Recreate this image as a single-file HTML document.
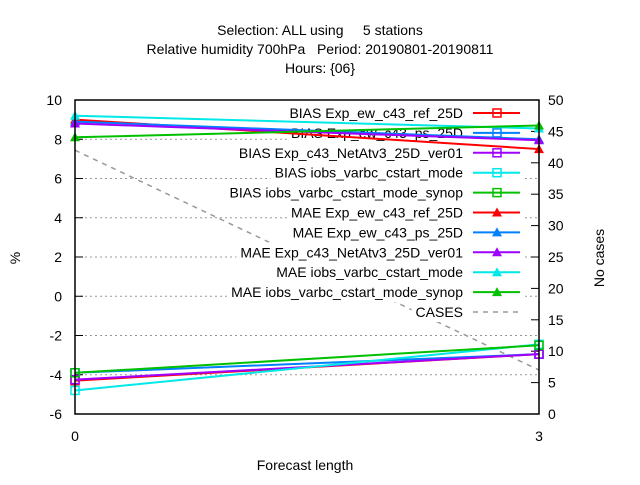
<!DOCTYPE html>
<html><head><meta charset="utf-8"><style>
body{margin:0;background:#fff;width:640px;height:480px;overflow:hidden}
svg text{font-family:"Liberation Sans",sans-serif;font-size:14px;fill:#000;white-space:pre}
</style></head><body>
<svg id="chart" width="640" height="480" xmlns="http://www.w3.org/2000/svg"></svg>
<script>
const xCats=[0,3];
const leftTicks=[-6,-4,-2,0,2,4,6,8,10];
const rightTicks=[0,5,10,15,20,25,30,35,40,45,50];
const seriesNames=["BIAS Exp_ew_c43_ref_25D","BIAS Exp_ew_c43_ps_25D","BIAS Exp_c43_NetAtv3_25D_ver01","BIAS iobs_varbc_cstart_mode","BIAS iobs_varbc_cstart_mode_synop","MAE Exp_ew_c43_ref_25D","MAE Exp_ew_c43_ps_25D","MAE Exp_c43_NetAtv3_25D_ver01","MAE iobs_varbc_cstart_mode","MAE iobs_varbc_cstart_mode_synop"];
const colors=["#ff0000","#0080ff","#a000ff","#00e8e8","#00c000","#ff0000","#0080ff","#a000ff","#00e8e8","#00c000"];
const biasRef=[-4.3,-2.95];
const biasPs=[-3.9,-2.95];
const biasNet=[-4.25,-2.95];
const biasIobs=[-4.8,-2.45];
const biasSynop=[-3.9,-2.5];
const maeRef=[9.0,7.5];
const maePs=[8.9,8.0];
const maeNet=[8.8,7.95];
const maeIobs=[9.2,8.55];
const maeSynop=[8.1,8.7];
const cases=[42,7];
const seriesVals=[biasRef,biasPs,biasNet,biasIobs,biasSynop,maeRef,maePs,maeNet,maeIobs,maeSynop];

const L=75,R=539,T=100,B=414;
const xs=v=>L+(v-0)/(3-0)*(R-L);
const ys=v=>B-(v+6)/16*(B-T);
const yr=v=>B-v/50*(B-T);
const svg=document.getElementById('chart');
const NS="http://www.w3.org/2000/svg";
function mk(tag,attrs,parent){const e=document.createElementNS(NS,tag);for(const k in attrs)e.setAttribute(k,attrs[k]);(parent||svg).appendChild(e);return e;}
function txt(s,x,y,anchor,parent){const t=mk('text',{x:x,y:y,'text-anchor':anchor||'start'},parent);t.textContent=s;return t;}

const tg=mk('g',{});


txt("Selection: ALL using     5 stations",320,35,'middle',tg);
txt("Relative humidity 700hPa   Period: 20190801-20190811",320,54,'middle',tg);
txt("Hours: {06}",320,73,'middle',tg);

const grid=mk('g',{});


leftTicks.forEach(v=>{
  const y=ys(v);
  if(v>-6&&v<10) mk('line',{x1:L,x2:R,y1:y,y2:y,stroke:'#999','stroke-dasharray':'2,3','stroke-width':1},grid);
  mk('line',{x1:L,x2:L+8,y1:y,y2:y,stroke:'#000'},grid);
  const t=txt(String(v),62,y+5,'end');
  
  
});
rightTicks.forEach(v=>{
  const y=yr(v);
  mk('line',{x1:R-8,x2:R,y1:y,y2:y,stroke:'#000'},grid);
  const t=txt(String(v),548,y+5,'start');
  
  
});
xCats.forEach(v=>{
  const x=xs(v);
  mk('line',{x1:x,x2:x,y1:B,y2:B-8,stroke:'#000'},grid);
  mk('line',{x1:x,x2:x,y1:T,y2:T+8,stroke:'#000'},grid);
  const t=txt(String(v),x,441,'middle');
  
  
});

const xl=txt("Forecast length",305,470,'middle');


const yl=txt("%",0,0,'middle');yl.setAttribute('transform','translate(20,258) rotate(-90)');


const y2=txt("No cases",0,0,'middle');y2.setAttribute('transform','translate(604,258) rotate(-90)');



function marker(g,x,y,i,c){
  if(i<5) mk('rect',{x:x-4,y:y-4,width:8,height:8,fill:'none',stroke:c,'stroke-width':1.5},g);
  else mk('polygon',{points:`${x-5},${y+4} ${x+5},${y+4} ${x},${y-5}`,fill:c},g);
}

const cg=mk('g',{});


mk('polyline',{points:xCats.map((c,j)=>xs(c)+','+yr(cases[j])).join(' '),fill:'none',stroke:'#999','stroke-dasharray':'5,5','stroke-width':1.5},cg);

const lg=mk('g',{});


seriesNames.concat(["CASES"]).forEach((n,i)=>{
  const y=113+i*19.9;
  const e=mk('g',{},lg);
  
  
  const bg=mk('rect',{x:0,y:y-10,width:0,height:20,fill:'#fff'},e);
  const t=txt(n,463,y+5,'end',e);
  const w=t.getComputedTextLength();
  bg.setAttribute('x',463-w-4);
  bg.setAttribute('width',w+4+62);
  if(i<10){
    mk('line',{x1:473,x2:520,y1:y,y2:y,stroke:colors[i],'stroke-width':2},e);
    marker(e,497,y,i,colors[i]);
  } else mk('line',{x1:473,x2:520,y1:y,y2:y,stroke:'#999','stroke-dasharray':'5,5','stroke-width':1.5},e);
});

seriesVals.forEach((vals,i)=>{
  const g=mk('g',{});
  
  
  mk('polyline',{points:xCats.map((c,j)=>xs(c)+','+ys(vals[j])).join(' '),fill:'none',stroke:colors[i],'stroke-width':2},g);
  xCats.forEach((c,j)=>marker(g,xs(c),ys(vals[j]),i,colors[i]));
});

const frame=mk('rect',{x:L,y:T,width:R-L,height:B-T,fill:'none',stroke:'#000','stroke-width':1.5});


</script>
</body></html>
